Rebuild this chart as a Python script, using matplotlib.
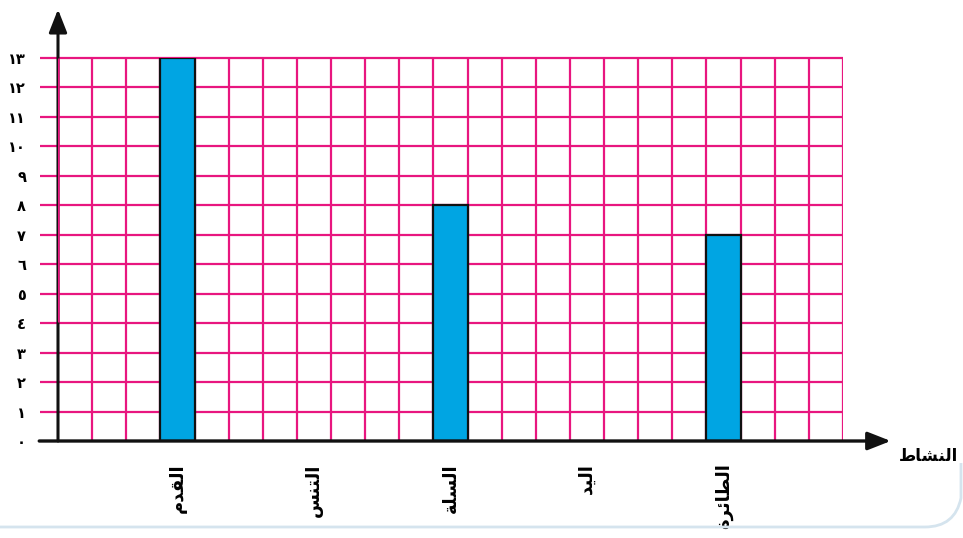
import matplotlib
matplotlib.use("Agg")
import matplotlib.pyplot as plt
from matplotlib.path import Path
from matplotlib.patches import PathPatch

# Activities (shaped Arabic presentation forms in visual order) and counts
categories = ["ﻡﺪﻘﻟﺍ", "ﺲﻨﺘﻟﺍ", "ﺔﻠﺴﻟﺍ", "ﺪﻴﻟﺍ", "ﺓﺮﺋﺎﻄﻟﺍ"]
values = [13, 0, 8, 0, 7]
positions = [3.5, 7.5, 11.5, 15.5, 19.5]
y_tick_labels = ["٠", "١", "٢", "٣", "٤", "٥", "٦", "٧", "٨", "٩", "١٠", "١١", "١٢", "١٣"]
x_axis_title = "ﻁﺎﺸﻨﻟﺍ"

plt.rcParams["font.family"] = ["DejaVu Sans"]

W, H = 963, 538
fig = plt.figure(figsize=(W / 100, H / 100), dpi=100)
x0, x1, y0, y1 = 58, 843, 441, 58
ax = fig.add_axes([x0 / W, (H - y0) / H, (x1 - x0) / W, (y0 - y1) / H])
ax.set_xlim(0, 23)
ax.set_ylim(0, 13)
for s in ax.spines.values():
    s.set_visible(False)

pink = "#E8167F"
# grid
ax.hlines(range(1, 14), -0.53, 23, color=pink, lw=1.6, clip_on=False, zorder=1)
ax.vlines(range(1, 24), 0, 13, color=pink, lw=1.6, zorder=1)

# bars
ax.bar(positions, values, width=1.0, color="#00A5E3", edgecolor="#111111",
       linewidth=1.6, zorder=3)

# axes arrows
ax.annotate("", xy=(0, 14.65), xytext=(0, 0),
            arrowprops=dict(arrowstyle="-|>,head_length=1.4,head_width=0.55",
                            color="#111111", lw=2.2, shrinkA=0, shrinkB=0),
            annotation_clip=False, zorder=4)
ax.vlines(0, 4.05, 13, color=pink, lw=1.8, zorder=5)
ax.annotate("", xy=(24.4, 0), xytext=(-0.55, 0),
            arrowprops=dict(arrowstyle="-|>,head_length=1.4,head_width=0.55",
                            color="#111111", lw=2.4, shrinkA=0, shrinkB=0),
            annotation_clip=False, zorder=6)

# ticks
ax.set_yticks(range(0, 14))
ax.set_yticklabels(y_tick_labels, fontsize=10.5, fontweight="bold")
ax.tick_params(axis="y", length=0, pad=23)
ax.set_xticks(positions)
ax.set_xticklabels(categories, rotation=90, fontsize=13, fontweight="bold",
                   va="top", ha="center")
ax.tick_params(axis="x", length=0, pad=16)

ax.text(25.5, -0.5, x_axis_title, fontsize=12, fontweight="bold",
        ha="center", va="center", clip_on=False)

# decorative frame at the bottom right
verts = [(0, 11), (925, 11), (955, 11), (961, 40), (961, 75)]
codes = [Path.MOVETO, Path.LINETO, Path.CURVE3, Path.CURVE3, Path.LINETO]
p = Path([(vx / W, vy / H) for vx, vy in verts], codes)
fig.patches.append(PathPatch(p, transform=fig.transFigure, fill=False,
                             edgecolor="#D5E4EE", lw=2.0))

fig.savefig("out.png", dpi=100)
